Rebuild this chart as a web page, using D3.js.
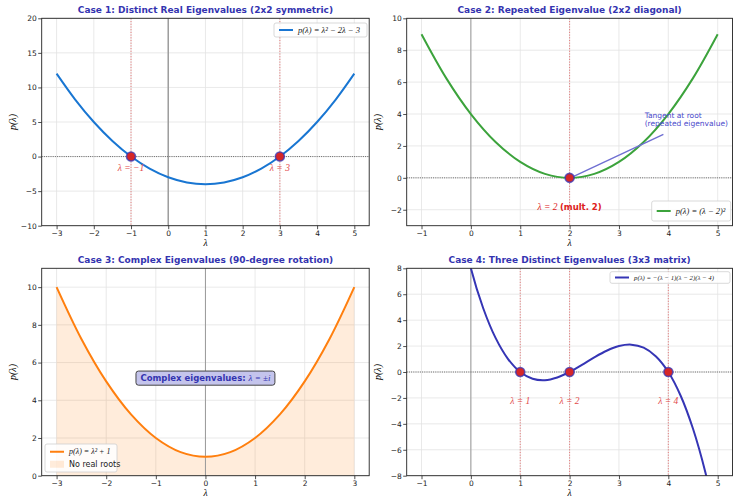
<!DOCTYPE html>
<html>
<head>
<meta charset="utf-8">
<script src="https://cdn.jsdelivr.net/npm/d3@7"></script>
<style>
  body { margin: 0; background: #fff; }
  text { font-family: "DejaVu Sans", sans-serif; }
  .math { font-family: "Liberation Serif", serif; font-style: italic; }
</style>
</head>
<body>
<script>
// ---- data ----
const case1X = [-3, -2.5, -2, -1.5, -1, -0.5, 0, 0.5, 1, 1.5, 2, 2.5, 3, 3.5, 4, 4.5, 5];
const case1Y = [12, 8.25, 5, 2.25, 0, -1.75, -3, -3.75, -4, -3.75, -3, -1.75, 0, 2.25, 5, 8.25, 12];
const case1Roots = [-1, 3];
const case1RootLabels = ["λ = −1", "λ = 3"];

const case2X = [-1, -0.5, 0, 0.5, 1, 1.5, 2, 2.5, 3, 3.5, 4, 4.5, 5];
const case2Y = [9, 6.25, 4, 2.25, 1, 0.25, 0, 0.25, 1, 2.25, 4, 6.25, 9];
const case2Roots = [2];

const case3X = [-3, -2.5, -2, -1.5, -1, -0.5, 0, 0.5, 1, 1.5, 2, 2.5, 3];
const case3Y = [10, 7.25, 5, 3.25, 2, 1.25, 1, 1.25, 2, 3.25, 5, 7.25, 10];

const case4X = [-1, -0.5, 0, 0.25, 0.5, 0.75, 1, 1.25, 1.5, 1.75, 2, 2.25, 2.5, 2.75, 3, 3.25, 3.5, 3.75, 4, 4.25, 4.5, 4.75, 5];
const case4Y = [30, 16.88, 8, 4.92, 2.63, 1.02, 0, -0.52, -0.63, -0.42, 0, 0.55, 1.13, 1.64, 2, 2.11, 1.88, 1.2, 0, -1.83, -4.38, -7.73, -12];
const case4Roots = [1, 2, 4];
const case4RootLabels = ["λ = 1", "λ = 2", "λ = 4"];

const ticks1X = [-3, -2, -1, 0, 1, 2, 3, 4, 5];
const ticks1Y = [-10, -5, 0, 5, 10, 15, 20];
const ticks2X = [-1, 0, 1, 2, 3, 4, 5];
const ticks2Y = [-2, 0, 2, 4, 6, 8, 10];
const ticks3X = [-3, -2, -1, 0, 1, 2, 3];
const ticks3Y = [0, 2, 4, 6, 8, 10];
const ticks4X = [-1, 0, 1, 2, 3, 4, 5];
const ticks4Y = [-8, -6, -4, -2, 0, 2, 4, 6, 8];

const titleColor = "#3434b0";
const rootRed = "#d62728";
const fmt = d3.format("d");

let width = 733;
let height = 498;

let svg = d3.select("body").append("svg")
    .attr("width", width)
    .attr("height", height);

let clipId = 0;

function makePanel(opt) {
    let g = svg.append("g");
    let x = d3.scaleLinear().domain(opt.xd).range([opt.left, opt.right]);
    let y = d3.scaleLinear().domain(opt.yd).range([opt.bottom, opt.top]);

    clipId++;
    g.append("clipPath").attr("id", "clip" + clipId)
        .append("rect")
        .attr("x", opt.left).attr("y", opt.top)
        .attr("width", opt.right - opt.left).attr("height", opt.bottom - opt.top);

    // grid
    g.append("g").selectAll("line").data(opt.xt).join("line")
        .attr("x1", d => x(d)).attr("x2", d => x(d))
        .attr("y1", opt.top).attr("y2", opt.bottom)
        .attr("stroke", "#e3e3e3").attr("stroke-width", 0.8);
    g.append("g").selectAll("line").data(opt.yt).join("line")
        .attr("y1", d => y(d)).attr("y2", d => y(d))
        .attr("x1", opt.left).attr("x2", opt.right)
        .attr("stroke", "#e3e3e3").attr("stroke-width", 0.8);

    let plot = g.append("g").attr("clip-path", "url(#clip" + clipId + ")");

    // axes
    let xAxis = d3.axisBottom(x).tickValues(opt.xt).tickFormat(fmt).tickSize(3.5).tickPadding(1.2);
    let yAxis = d3.axisLeft(y).tickValues(opt.yt).tickFormat(fmt).tickSize(3.5).tickPadding(1.5);
    let ax = g.append("g").attr("transform", "translate(0," + opt.bottom + ")").call(xAxis);
    let ay = g.append("g").attr("transform", "translate(" + opt.left + ",0)").call(yAxis);
    [ax, ay].forEach(a => {
        a.select(".domain").remove();
        a.selectAll("text").attr("font-size", "7.5px").attr("fill", "#222")
            .style("font-family", "DejaVu Sans");
        a.selectAll("line").attr("stroke", "#222").attr("stroke-width", 0.8);
    });

    // title + labels
    g.append("text")
        .attr("x", (opt.left + opt.right) / 2).attr("y", opt.top - 5)
        .attr("text-anchor", "middle")
        .attr("font-size", "9px").attr("font-weight", "bold")
        .attr("fill", titleColor)
        .text(opt.title);

    g.append("text").attr("class", "math")
        .attr("x", (opt.left + opt.right) / 2).attr("y", opt.bottom + 20.5)
        .attr("text-anchor", "middle").attr("font-size", "9.5px")
        .text("λ");

    g.append("text").attr("class", "math")
        .attr("transform", "translate(" + (opt.left - 26) + "," + ((opt.top + opt.bottom) / 2) + ") rotate(-90)")
        .attr("text-anchor", "middle").attr("font-size", "10px")
        .text("p(λ)");

    return { g: g, plot: plot, x: x, y: y, opt: opt };
}

function zeroLines(p, vw) {
    p.plot.append("line")
        .attr("x1", p.x(0)).attr("x2", p.x(0))
        .attr("y1", p.opt.top).attr("y2", p.opt.bottom)
        .attr("stroke", "#999").attr("stroke-width", vw);
    p.plot.append("line")
        .attr("x1", p.opt.left).attr("x2", p.opt.right)
        .attr("y1", p.y(0)).attr("y2", p.y(0))
        .attr("stroke", "#666").attr("stroke-width", 1)
        .attr("stroke-dasharray", "1,1.2");
}

function rootLines(p, roots) {
    p.plot.append("g").selectAll("line").data(roots).join("line")
        .attr("x1", d => p.x(d)).attr("x2", d => p.x(d))
        .attr("y1", p.opt.top).attr("y2", p.opt.bottom)
        .attr("stroke", "#e06060").attr("stroke-width", 0.8)
        .attr("stroke-dasharray", "1.2,1.5");
}

function curve(p, xs, ys, color) {
    let line = d3.line()
        .x(d => p.x(d[0]))
        .y(d => p.y(d[1]))
        .curve(d3.curveCatmullRom);
    p.plot.append("path")
        .datum(d3.zip(xs, ys))
        .attr("d", line)
        .attr("fill", "none")
        .attr("stroke", color)
        .attr("stroke-width", 2);
}

function markers(p, roots, edge) {
    p.plot.append("g").selectAll("circle").data(roots).join("circle")
        .attr("cx", d => p.x(d)).attr("cy", p.y(0)).attr("r", 4.5)
        .attr("fill", rootRed)
        .attr("stroke", edge).attr("stroke-opacity", 0.75).attr("stroke-width", 1.6);
}

function rootLabels(p, roots, labels, yv) {
    p.g.append("g").selectAll("text").data(roots).join("text")
        .attr("class", "math")
        .attr("x", d => p.x(d)).attr("y", p.y(yv))
        .attr("text-anchor", "middle").attr("dominant-baseline", "central")
        .attr("font-size", "9.5px").attr("fill", "#e24a4a")
        .text((d, i) => labels[i]);
}

function spines(p) {
    p.g.append("rect")
        .attr("x", p.opt.left).attr("y", p.opt.top)
        .attr("width", p.opt.right - p.opt.left).attr("height", p.opt.bottom - p.opt.top)
        .attr("fill", "none").attr("stroke", "#222").attr("stroke-width", 0.9);
}

function legend(p, bx, by, bw, bh, items, fs) {
    let lg = p.g.append("g");
    lg.append("rect")
        .attr("x", bx).attr("y", by).attr("width", bw).attr("height", bh).attr("rx", 2)
        .attr("fill", "#fff").attr("fill-opacity", 0.85)
        .attr("stroke", "#cfcfcf").attr("stroke-width", 0.8);
    let step = 12.5;
    let first = by + bh / 2 - (items.length - 1) * step / 2;
    items.forEach((it, i) => {
        let cy = first + i * step;
        if (it.kind === "line") {
            lg.append("line")
                .attr("x1", bx + 5).attr("x2", bx + 19).attr("y1", cy).attr("y2", cy)
                .attr("stroke", it.color).attr("stroke-width", 2);
        } else {
            lg.append("rect")
                .attr("x", bx + 5).attr("y", cy - 3.5).attr("width", 14).attr("height", 7)
                .attr("fill", it.color).attr("fill-opacity", 0.15);
        }
        lg.append("text")
            .attr("class", it.math ? "math" : null)
            .attr("x", bx + 24).attr("y", cy)
            .attr("dominant-baseline", "central")
            .attr("font-size", fs).attr("fill", "#222")
            .text(it.label);
    });
}

// ---- Case 1 ----
let p1 = makePanel({
    left: 41.7, right: 369.2, top: 18.3, bottom: 225.7,
    xd: [-3.4, 5.4], yd: [-10, 20], xt: ticks1X, yt: ticks1Y,
    title: "Case 1: Distinct Real Eigenvalues (2x2 symmetric)"
});
zeroLines(p1, 1.4);
rootLines(p1, case1Roots);
curve(p1, case1X, case1Y, "#1976d2");
markers(p1, case1Roots, "#3535b5");
rootLabels(p1, case1Roots, case1RootLabels, -1.6);
legend(p1, 274, 23, 93, 14, [{ kind: "line", color: "#1976d2", label: "p(λ) = λ² − 2λ − 3", math: true }], "8.5px");
spines(p1);

// ---- Case 2 ----
let p2 = makePanel({
    left: 406.7, right: 732.5, top: 18.3, bottom: 225.7,
    xd: [-1.3, 5.3], yd: [-3, 10], xt: ticks2X, yt: ticks2Y,
    title: "Case 2: Repeated Eigenvalue (2x2 diagonal)"
});
zeroLines(p2, 1);
rootLines(p2, case2Roots);
curve(p2, case2X, case2Y, "#3ca33c");
// tangent annotation
p2.plot.append("line")
    .attr("x1", p2.x(3.9)).attr("y1", p2.y(2.72))
    .attr("x2", p2.x(2.04)).attr("y2", p2.y(0.03))
    .attr("stroke", "#6f6fd2").attr("stroke-width", 1.4);
markers(p2, case2Roots, "#3535b5");
let ann = p2.g.append("text")
    .attr("x", p2.x(3.52)).attr("y", p2.y(3.75))
    .attr("font-size", "7.5px").attr("fill", "#4a4acb");
ann.append("tspan").attr("x", p2.x(3.52)).attr("dy", 0).text("Tangent at root");
ann.append("tspan").attr("x", p2.x(3.52)).attr("dy", "1.1em").text("(repeated eigenvalue)");
let lab2 = p2.g.append("text")
    .attr("x", p2.x(2)).attr("y", p2.y(-1.8))
    .attr("text-anchor", "middle").attr("dominant-baseline", "central")
    .attr("font-size", "9.5px").attr("fill", "#dd2020");
lab2.append("tspan").attr("class", "math").text("λ = 2 ");
lab2.append("tspan").attr("font-weight", "bold").attr("font-size", "8.5px").text("(mult. 2)");
legend(p2, 651.7, 201, 79, 20, [{ kind: "line", color: "#3ca33c", label: "p(λ) = (λ − 2)²", math: true }], "8.5px");
spines(p2);

// ---- Case 3 ----
let p3 = makePanel({
    left: 41.7, right: 369.2, top: 268.3, bottom: 475.7,
    xd: [-3.3, 3.3], yd: [0, 11], xt: ticks3X, yt: ticks3Y,
    title: "Case 3: Complex Eigenvalues (90-degree rotation)"
});
let area = d3.area()
    .x(d => p3.x(d[0]))
    .y0(p3.y(0))
    .y1(d => p3.y(d[1]))
    .curve(d3.curveCatmullRom);
p3.plot.append("path")
    .datum(d3.zip(case3X, case3Y))
    .attr("d", area)
    .attr("fill", "#ff7f0e").attr("fill-opacity", 0.15);
p3.plot.append("line")
    .attr("x1", p3.x(0)).attr("x2", p3.x(0))
    .attr("y1", p3.opt.top).attr("y2", p3.opt.bottom)
    .attr("stroke", "#999").attr("stroke-width", 1);
curve(p3, case3X, case3Y, "#ff7f0e");
let box = p3.g.append("g");
box.append("rect")
    .attr("x", p3.x(-1.4)).attr("y", p3.y(5.55))
    .attr("width", p3.x(1.4) - p3.x(-1.4)).attr("height", p3.y(4.8) - p3.y(5.55))
    .attr("rx", 2.5)
    .attr("fill", "#c4c4ec").attr("stroke", "#444").attr("stroke-width", 1);
let boxText = box.append("text")
    .attr("x", p3.x(0)).attr("y", p3.y(5.18))
    .attr("text-anchor", "middle").attr("dominant-baseline", "central")
    .attr("font-size", "8.5px").attr("fill", "#3434b0");
boxText.append("tspan").attr("font-weight", "bold").text("Complex eigenvalues: ");
boxText.append("tspan").attr("class", "math").attr("font-size", "9px").text("λ = ±i");
legend(p3, 45, 444, 72, 28, [
    { kind: "line", color: "#ff7f0e", label: "p(λ) = λ² + 1", math: true },
    { kind: "patch", color: "#ff7f0e", label: "No real roots", math: false }
], "8px");
spines(p3);

// ---- Case 4 ----
let p4 = makePanel({
    left: 406.7, right: 732.5, top: 268.3, bottom: 475.7,
    xd: [-1.3, 5.3], yd: [-8, 8], xt: ticks4X, yt: ticks4Y,
    title: "Case 4: Three Distinct Eigenvalues (3x3 matrix)"
});
zeroLines(p4, 1);
rootLines(p4, case4Roots);
curve(p4, case4X, case4Y, "#3535b5");
markers(p4, case4Roots, "#3535b5");
rootLabels(p4, case4Roots, case4RootLabels, -2.2);
legend(p4, 610, 271.7, 120, 11.6, [{ kind: "line", color: "#3535b5", label: "p(λ) = −(λ − 1)(λ − 2)(λ − 4)", math: true }], "6.8px");
spines(p4);
</script>
</body>
</html>
